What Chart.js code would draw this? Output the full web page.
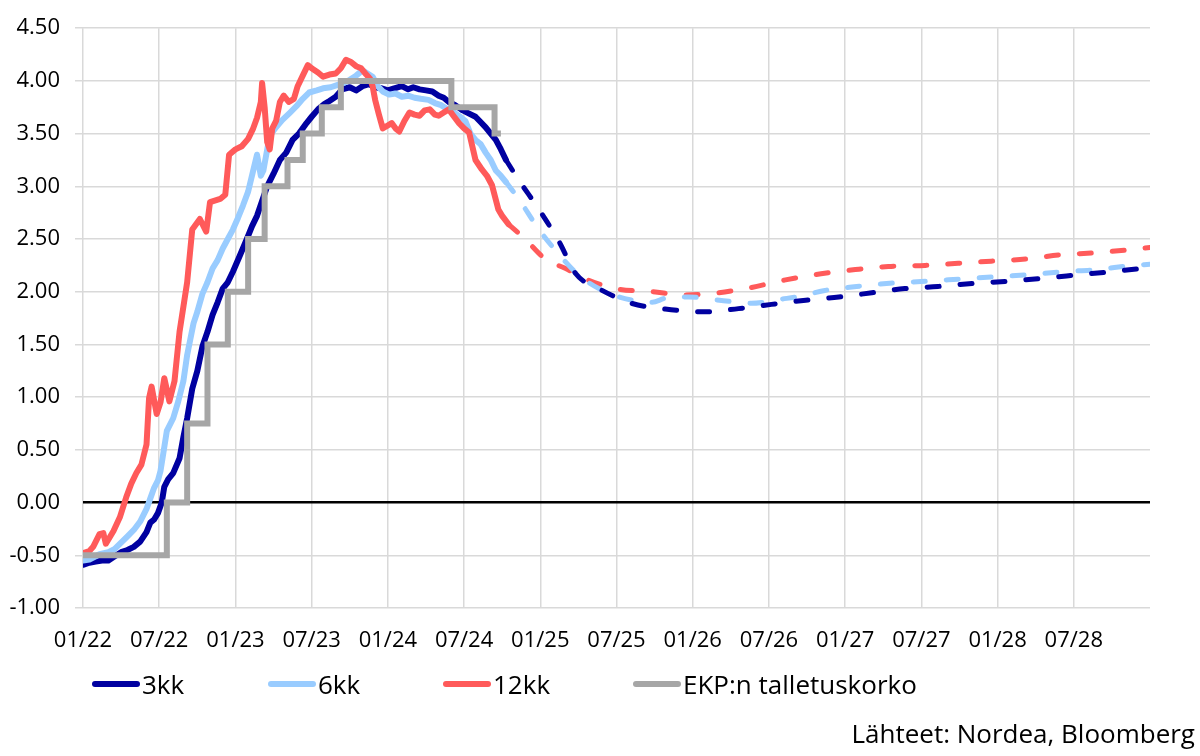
<!DOCTYPE html>
<html>
<head>
<meta charset="utf-8">
<script src="https://cdn.jsdelivr.net/npm/chart.js@4.4.1/dist/chart.umd.min.js"></script>
<style>
  body { margin: 0; background: #fff; }
  #wrap { position: relative; width: 1200px; height: 756px; font-family: "Open Sans", sans-serif; }
  #chart { position: absolute; left: 0; top: 0; }
  .leg { position: absolute; top: 666px; display: flex; align-items: center; font-size: 26px; color: #000; }
  .leg span.ln { display: inline-block; width: 48px; height: 6px; border-radius: 3px; margin-right: 2px; }
  #source { position: absolute; right: 5px; top: 715px; font-size: 26px; color: #000; }
</style>
</head>
<body>
<div id="wrap">
  <canvas id="chart" width="1200" height="756"></canvas>
  <div id="legend"></div>
  <div id="source">Lähteet: Nordea, Bloomberg</div>
</div>
<script>
// x values are months since 01/2022
const tickLabels = ["01/22", "07/22", "01/23", "07/23", "01/24", "07/24", "01/25", "07/25", "01/26", "07/26", "01/27", "07/27", "01/28", "07/28"];

const kk3Months = [0, 0.5, 1, 1.5, 2, 2.5, 3, 3.5, 4, 4.5, 5, 5.3, 5.6, 5.9, 6.2, 6.4, 6.7, 7.1, 7.6, 7.9, 8.2, 8.6, 9.0, 9.4, 9.8, 10.2, 10.6, 11.0, 11.4, 11.8, 12.3, 12.9, 13.3, 13.7, 14.1, 14.5, 15.0, 15.5, 16.0, 16.5, 17.0, 17.6, 18.0, 18.5, 19.0, 19.4, 19.9, 20.4, 21.0, 21.5, 22.0, 22.5, 23.0, 23.5, 24.0, 24.5, 25.1, 25.6, 26.0, 26.5, 27.0, 27.5, 28.0, 28.4, 28.8, 29.3, 29.9, 30.4, 30.9, 31.3, 31.7, 32.1, 32.5, 32.9, 33.3];
const kk3Values = [-0.59, -0.57, -0.56, -0.55, -0.55, -0.51, -0.47, -0.45, -0.42, -0.37, -0.28, -0.19, -0.16, -0.10, 0.0, 0.15, 0.22, 0.28, 0.42, 0.62, 0.80, 1.08, 1.25, 1.48, 1.62, 1.78, 1.90, 2.03, 2.09, 2.19, 2.33, 2.50, 2.62, 2.72, 2.86, 3.00, 3.12, 3.25, 3.32, 3.44, 3.50, 3.60, 3.66, 3.73, 3.78, 3.81, 3.85, 3.92, 3.94, 3.91, 3.95, 3.97, 3.94, 3.93, 3.91, 3.93, 3.95, 3.92, 3.94, 3.92, 3.91, 3.90, 3.86, 3.84, 3.80, 3.77, 3.72, 3.69, 3.66, 3.61, 3.56, 3.50, 3.44, 3.35, 3.25];
const kk3FcMonths = [33.3, 34.3, 35.9, 37.5, 38.8, 40.6, 43.2, 46.3, 49.0, 51.6, 54.2, 56.9, 59.5, 62.1, 64.7, 67.3, 70.2, 72.8, 75.7, 78.3, 80.9, 84];
const kk3FcValues = [3.25, 3.06, 2.78, 2.47, 2.17, 2.03, 1.89, 1.83, 1.81, 1.84, 1.88, 1.92, 1.95, 1.99, 2.03, 2.05, 2.08, 2.10, 2.13, 2.16, 2.19, 2.23];

const kk6Months = [0, 0.5, 1.3, 2.0, 2.5, 3.0, 3.5, 4.0, 4.5, 5.0, 5.3, 5.6, 5.9, 6.1, 6.3, 6.6, 7.1, 7.5, 7.9, 8.2, 8.7, 9.0, 9.4, 9.8, 10.2, 10.6, 11.0, 11.4, 11.8, 12.2, 12.6, 13.0, 13.4, 13.7, 14.0, 14.2, 14.7, 15.2, 15.7, 16.3, 16.8, 17.3, 17.8, 18.4, 18.9, 19.5, 20.0, 20.5, 21.0, 21.5, 22.0, 22.4, 22.8, 23.2, 23.6, 24.1, 24.6, 25.1, 25.6, 26.1, 26.6, 27.2, 27.7, 28.2, 28.7, 29.2, 29.7, 30.1, 30.5, 30.9, 31.3, 31.7, 32.1, 32.5, 32.9, 33.3];
const kk6Values = [-0.55, -0.54, -0.49, -0.47, -0.44, -0.38, -0.32, -0.26, -0.18, -0.06, 0.04, 0.14, 0.21, 0.30, 0.45, 0.68, 0.80, 0.96, 1.15, 1.40, 1.70, 1.81, 1.98, 2.09, 2.22, 2.30, 2.41, 2.50, 2.59, 2.70, 2.82, 2.95, 3.15, 3.30, 3.10, 3.15, 3.48, 3.56, 3.63, 3.70, 3.76, 3.83, 3.89, 3.91, 3.93, 3.94, 3.96, 3.98, 4.01, 4.05, 4.10, 4.07, 4.04, 3.95, 3.90, 3.87, 3.88, 3.85, 3.86, 3.84, 3.83, 3.82, 3.79, 3.77, 3.73, 3.70, 3.66, 3.62, 3.50, 3.44, 3.40, 3.32, 3.25, 3.15, 3.10, 3.04];
const kk6FcMonths = [33.3, 34.3, 35.9, 37.5, 39.0, 41.1, 43.2, 44.8, 45.9, 47.7, 50.1, 52.6, 55.0, 56.6, 58.3, 60.9, 63.5, 66.4, 69.0, 71.6, 74.3, 77.1, 79.8, 82.6, 84];
const kk6FcValues = [3.04, 2.88, 2.59, 2.35, 2.16, 2.00, 1.92, 1.90, 1.94, 1.95, 1.92, 1.89, 1.93, 1.96, 2.01, 2.05, 2.08, 2.10, 2.12, 2.14, 2.16, 2.19, 2.21, 2.25, 2.26];

const kk12Months = [0, 0.5, 0.8, 1.3, 1.6, 1.8, 2.4, 2.9, 3.4, 3.8, 4.2, 4.6, 5.0, 5.2, 5.4, 5.8, 6.1, 6.4, 6.8, 7.2, 7.6, 8.2, 8.6, 9.2, 9.7, 10.0, 10.8, 11.2, 11.5, 12.0, 12.5, 13.0, 13.4, 13.7, 14.0, 14.1, 14.3, 14.5, 14.7, 14.9, 15.2, 15.5, 15.8, 16.2, 16.6, 16.9, 17.3, 17.7, 18.0, 18.5, 18.9, 19.4, 19.9, 20.3, 20.7, 21.1, 21.5, 21.9, 22.3, 22.6, 22.8, 23.0, 23.3, 23.6, 23.9, 24.3, 24.6, 24.9, 25.3, 25.7, 26.1, 26.5, 26.9, 27.3, 27.7, 28.0, 28.4, 28.8, 29.1, 29.6, 30.0, 30.4, 30.9, 31.4, 31.8, 32.2, 32.7, 33.0, 33.5];
const kk12Values = [-0.48, -0.46, -0.42, -0.30, -0.29, -0.39, -0.27, -0.14, 0.05, 0.18, 0.28, 0.36, 0.55, 0.99, 1.10, 0.84, 0.95, 1.18, 0.96, 1.15, 1.62, 2.09, 2.59, 2.69, 2.57, 2.85, 2.88, 2.92, 3.30, 3.35, 3.38, 3.45, 3.55, 3.65, 3.80, 3.98, 3.75, 3.42, 3.35, 3.55, 3.62, 3.80, 3.86, 3.80, 3.83, 3.95, 4.05, 4.15, 4.12, 4.08, 4.04, 4.06, 4.07, 4.12, 4.20, 4.18, 4.14, 4.12, 4.06, 4.02, 3.95, 3.82, 3.68, 3.55, 3.57, 3.60, 3.55, 3.52, 3.62, 3.70, 3.68, 3.67, 3.72, 3.73, 3.68, 3.67, 3.70, 3.73, 3.68, 3.60, 3.55, 3.51, 3.25, 3.16, 3.10, 3.01, 2.78, 2.72, 2.64];
const kk12FcMonths = [33.5, 34.8, 36.4, 38.0, 39.6, 41.9, 44.8, 47.4, 50.0, 52.6, 55.2, 58.1, 60.8, 63.4, 66.3, 68.9, 71.5, 74.2, 77.0, 79.7, 82.5, 84];
const kk12FcValues = [2.64, 2.50, 2.31, 2.22, 2.12, 2.03, 2.00, 1.97, 1.99, 2.04, 2.11, 2.17, 2.21, 2.24, 2.25, 2.27, 2.29, 2.31, 2.35, 2.37, 2.40, 2.42];

// ECB deposit rate, value from the given month on
const ecbMonths = [0, 6.6, 8.2, 9.8, 11.4, 13.0, 14.3, 16.1, 17.3, 18.8, 20.3, 29.0, 32.4, 32.9];
const ecbValues = [-0.50, 0.00, 0.75, 1.50, 2.00, 2.50, 3.00, 3.25, 3.50, 3.75, 4.00, 3.75, 3.50, 3.50];

const colors = { kk3: "#0000a0", kk6: "#99ccff", kk12: "#ff5a5a", ecb: "#a6a6a6" };

function pts(xs, ys) {
  return xs.map((x, i) => ({ x: x, y: ys[i] }));
}

function solid(label, xs, ys, color, order) {
  return {
    label: label, data: pts(xs, ys), borderColor: color, backgroundColor: color,
    borderWidth: 6, pointRadius: 0, tension: 0, borderJoinStyle: "round", borderCapStyle: "round", order: order
  };
}

function dashed(label, xs, ys, color, order) {
  return {
    label: label, data: pts(xs, ys), borderColor: color, backgroundColor: color,
    borderWidth: 5, borderDash: [12, 21], borderCapStyle: "round", pointRadius: 0,
    cubicInterpolationMode: "monotone", order: order
  };
}

const ecb = solid("EKP:n talletuskorko", ecbMonths, ecbValues, colors.ecb, 1);
ecb.stepped = true;
ecb.borderCapStyle = "butt";
ecb.borderJoinStyle = "miter";

const datasets = [
  solid("3kk", kk3Months, kk3Values, colors.kk3, 4),
  solid("6kk", kk6Months, kk6Values, colors.kk6, 3),
  solid("12kk", kk12Months, kk12Values, colors.kk12, 2),
  ecb,
  dashed("3kk ennuste", kk3FcMonths, kk3FcValues, colors.kk3, 5),
  dashed("6kk ennuste", kk6FcMonths, kk6FcValues, colors.kk6, 6),
  dashed("12kk ennuste", kk12FcMonths, kk12FcValues, colors.kk12, 7)
];

const font = "'Open Sans', sans-serif";

new Chart("chart", {
  type: "line",
  data: { datasets: datasets },
  options: {
    responsive: false,
    animation: false,
    layout: { padding: { top: 25, right: 50, left: 0, bottom: 0 } },
    plugins: { legend: { display: false }, tooltip: { enabled: false } },
    scales: {
      x: {
        type: "linear", min: 0, max: 84,
        afterFit: (s) => { s.height = 148; },
        border: { display: false },
        grid: {
          color: (c) => (c.tick && c.tick.value === 84 ? "rgba(0,0,0,0)" : "#d9d9d9"),
          lineWidth: 1.5, drawTicks: false
        },
        ticks: {
          stepSize: 6, autoSkip: false, maxRotation: 0, padding: 20,
          color: "#000", font: { family: font, size: 22 },
          callback: (v, i) => tickLabels[i] || ""
        }
      },
      y: {
        min: -1, max: 4.5,
        afterFit: (s) => { s.width = 83; },
        border: { display: false },
        grid: {
          color: (c) => (c.tick && c.tick.value === 0 ? "#000" : "#d9d9d9"),
          lineWidth: (c) => (c.tick && c.tick.value === 0 ? 2.5 : 1.5),
          tickColor: (c) => (c.tick && c.tick.value === 0 ? "rgba(0,0,0,0)" : "#d9d9d9"),
          tickLength: 8
        },
        ticks: {
          stepSize: 0.5, padding: 15, color: "#000", font: { family: font, size: 22 },
          callback: (v) => v.toFixed(2)
        }
      }
    }
  }
});

// legend
const legendItems = [
  { text: "3kk", color: colors.kk3, left: 92 },
  { text: "6kk", color: colors.kk6, left: 268 },
  { text: "12kk", color: colors.kk12, left: 443 },
  { text: "EKP:n talletuskorko", color: colors.ecb, left: 633 }
];
const legend = document.getElementById("legend");
legendItems.forEach((item) => {
  const div = document.createElement("div");
  div.className = "leg";
  div.style.left = item.left + "px";
  const ln = document.createElement("span");
  ln.className = "ln";
  ln.style.background = item.color;
  const txt = document.createElement("span");
  txt.textContent = item.text;
  div.append(ln, txt);
  legend.append(div);
});
</script>
</body>
</html>
